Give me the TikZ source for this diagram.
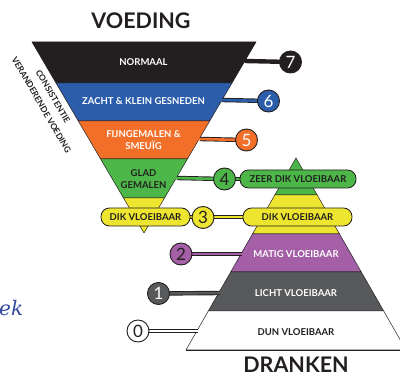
\documentclass[tikz,border=0pt]{standalone}
\usepackage{fontspec}
\setmainfont{Lato}
\newfontfamily\hand{DejaVu Serif}
\usetikzlibrary{backgrounds}
\definecolor{dk}{HTML}{231F20}
\definecolor{bl}{HTML}{2B5DAB}
\definecolor{orng}{HTML}{F26F2A}
\definecolor{gr}{HTML}{4CB748}
\definecolor{ye}{HTML}{EDE52F}
\definecolor{pu}{HTML}{A45FA7}
\definecolor{gy}{HTML}{58595B}
\definecolor{hb}{HTML}{34489F}
\begin{document}
\begin{tikzpicture}[x=1pt,y=-1pt,
  band/.style={draw=dk,line width=0.5pt},
  num/.style={circle,draw=dk,line width=0.9pt,minimum size=22pt,inner sep=0pt,font=\fontsize{17}{17}\selectfont},
  banner/.style={rounded corners=8.5pt,draw=dk,line width=0.8pt,minimum height=18pt,inner sep=0pt,font=\fontsize{9.5}{11}\selectfont\bfseries,text=dk},
  lab/.style={font=\fontsize{9.5}{12.5}\selectfont\bfseries,align=center,inner sep=0pt},
  title/.style={font=\fontsize{21.5}{22}\selectfont\bfseries,text=dk,inner sep=0pt,anchor=base},
  sidetext/.style={font=\fontsize{8.5}{10}\selectfont\bfseries,text=dk,rotate=-60,inner sep=0pt},
  connout/.style={line width=4.4pt,draw=dk},
  connin/.style={line width=2.6pt}]
\useasboundingbox (0,0) rectangle (400,377);
% titles
\node[title] (tv) at (141,29) {VOEDING};
\node[title] (td) at (296,373) {DRANKEN};
% rotated text
\node[sidetext] (cs) at (53,96.5) {CONSISTENTIE};
\node[sidetext] (vv) at (41.5,105) {VERANDERENDE VOEDING};
% handwritten fragment
\node[font=\hand\itshape\fontsize{20}{20}\selectfont,text=hb,anchor=base west,inner sep=0pt] (ek) at (-1,316) {ek};
% edge coordinates
\coordinate (e7) at (245,61); \coordinate (i7) at (241,61);
\coordinate (e6) at (222,100); \coordinate (i6) at (218,100);
\coordinate (e5) at (200,139); \coordinate (i5) at (196,139);
\coordinate (e4) at (177,178); \coordinate (i4) at (173,178);
\coordinate (e2) at (242,254); \coordinate (i2) at (246,254);
\coordinate (e1) at (220,293); \coordinate (i1) at (224,293);
\coordinate (e0) at (198,331); \coordinate (i0) at (202,331);
% number circles
\node[num,fill=dk,text=white] (n7) at (290.5,62) {7};
\node[num,fill=bl,text=white] (n6) at (268.5,101) {6};
\node[num,fill=orng,text=white] (n5) at (246.5,140) {5};
\node[num,fill=gr,text=dk] (n4) at (224.5,179) {4};
\node[num,fill=ye,text=dk] (n3) at (203,217.5) {3};
\node[num,fill=pu,text=dk] (n2) at (181,254) {2};
\node[num,fill=gy,text=white] (n1) at (158.5,293.5) {1};
\node[num,fill=white,text=dk] (n0) at (138,331) {0};
% banners
\node[banner,fill=gr,minimum width=116pt] (bz) at (298,179) {ZEER DIK VLOEIBAAR};
\node[banner,fill=ye,minimum width=89pt] (bl) at (145.5,217) {DIK VLOEIBAAR};
\node[banner,fill=ye,minimum width=109pt] (br) at (297.5,217) {DIK VLOEIBAAR};
% band labels
\node[lab,text=white] (l7) at (143.5,62) {NORMAAL};
\node[lab,text=white] (l6) at (143.5,101) {ZACHT \& KLEIN GESNEDEN};
\node[lab,text=white] (l5) at (143.5,140) {FIJNGEMALEN \&\\SMEUÏG};
\node[lab,text=dk] (l4) at (143.5,179) {GLAD\\GEMALEN};
\node[lab,text=white] (l2) at (296,254) {MATIG VLOEIBAAR};
\node[lab,text=white] (l1) at (296,293) {LICHT VLOEIBAAR};
\node[lab,text=dk] (l0) at (296,332) {DUN VLOEIBAAR};
\begin{pgfonlayer}{background}
% upward triangle
\path[band,fill=gr] (296,158) -- (317.2,195) -- (274.8,195) -- cycle;
\path[band,fill=ye] (274.8,195) -- (317.2,195) -- (339.5,234) -- (252.5,234) -- cycle;
\path[band,fill=pu] (252.5,234) -- (339.5,234) -- (361.3,272) -- (230.7,272) -- cycle;
\path[band,fill=gy] (230.7,272) -- (361.3,272) -- (383.7,311) -- (208.3,311) -- cycle;
\path[band,fill=white] (208.3,311) -- (383.7,311) -- (406,350) -- (186,350) -- cycle;
\draw[dk,line width=0.8pt] (186,350) -- (400,350);
% inverted triangle
\path[band,fill=dk] (32,42) -- (256,42) -- (232,83) -- (56,83) -- cycle;
\path[band,fill=bl] (56,83) -- (232,83) -- (209.7,121) -- (78.3,121) -- cycle;
\path[band,fill=orng] (78.3,121) -- (209.7,121) -- (187.4,159) -- (100.6,159) -- cycle;
\path[band,fill=gr] (100.6,159) -- (187.4,159) -- (164.5,198) -- (123.5,198) -- cycle;
\path[band,fill=ye] (123.5,198) -- (164.5,198) -- (144,233) -- cycle;
% connectors
\draw[connout] (n7.center) -- (e7); \draw[connin,dk] (n7.center) -- (i7);
\draw[connout] (n6.center) -- (e6); \draw[connin,bl] (n6.center) -- (i6);
\draw[connout] (n5.center) -- (e5); \draw[connin,orng] (n5.center) -- (i5);
\draw[connout] (n4.center) -- (e4); \draw[connin,gr] (n4.center) -- (i4);
\draw[connout] (n4.center) -- (bz.center); \draw[connin,gr] (n4.center) -- (bz.center);
\draw[connout] (bl.center) -- (br.center); \draw[connin,ye] (bl.center) -- (br.center);
\draw[connout] (n2.center) -- (e2); \draw[connin,pu] (n2.center) -- (i2);
\draw[connout] (n1.center) -- (e1); \draw[connin,gy] (n1.center) -- (i1);
\draw[connout] (n0.center) -- (e0); \draw[connin,white] (n0.center) -- (i0);
\end{pgfonlayer}
\end{tikzpicture}
\end{document}
